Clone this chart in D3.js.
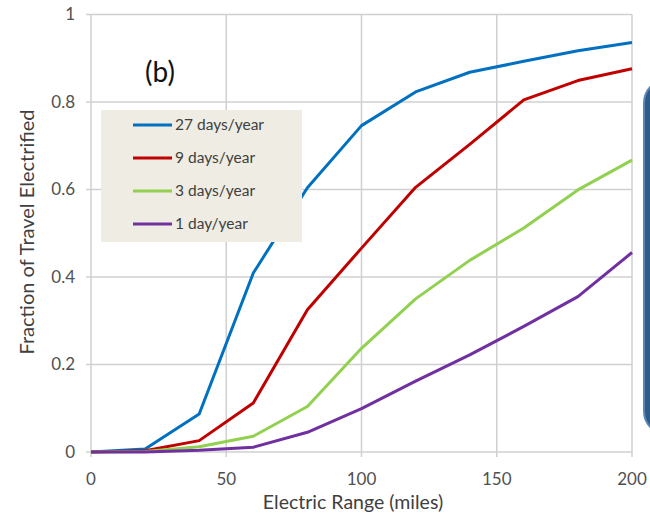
<!DOCTYPE html>
<html>
<head>
<meta charset="utf-8">
<script src="https://cdn.jsdelivr.net/npm/d3@7"></script>
<style>
  body { margin: 0; background: #fff; }
  text { font-family: Lato, "Open Sans", sans-serif; fill: #404040; }
</style>
</head>
<body>
<div id="chart"></div>
<script>
// rango electrico (millas)
var ranges = [0, 20, 40, 60, 80, 100, 120, 140, 160, 180, 200];

var seriesNames = ["27 days/year", "9 days/year", "3 days/year", "1 day/year"];
var seriesColors = ["#0070c0", "#c00000", "#92d050", "#7030a0"];

var days27 = [0, 0.007, 0.087, 0.409, 0.604, 0.746, 0.823, 0.868, 0.893, 0.917, 0.936];
var days9 = [0, 0.003, 0.026, 0.112, 0.325, 0.466, 0.605, 0.703, 0.805, 0.849, 0.876];
var days3 = [0, 0.001, 0.012, 0.036, 0.104, 0.237, 0.350, 0.438, 0.512, 0.599, 0.667];
var days1 = [0, 0, 0.004, 0.011, 0.045, 0.099, 0.162, 0.222, 0.287, 0.355, 0.456];

var xTicks = [0, 50, 100, 150, 200];
var yTicks = [0, 0.2, 0.4, 0.6, 0.8, 1];

var allSeries = [days27, days9, days3, days1];

var width = 650, height = 520;
var margin = { top: 14.5, right: 18, bottom: 68, left: 91 };

var svg = d3.select("#chart").append("svg")
    .attr("width", width)
    .attr("height", height);

var x = d3.scaleLinear().domain([0, 200]).range([margin.left, width - margin.right]);
var y = d3.scaleLinear().domain([0, 1]).range([height - margin.bottom, margin.top]);

// cuadricula
svg.append("g")
    .selectAll("line.h")
    .data(yTicks)
    .enter().append("line")
        .attr("x1", x(0) - 5).attr("x2", x(200))
        .attr("y1", function (d) { return y(d); })
        .attr("y2", function (d) { return y(d); })
        .attr("stroke", "#d0d0d0").attr("stroke-width", 1.5);

svg.append("g")
    .selectAll("line.v")
    .data(xTicks)
    .enter().append("line")
        .attr("x1", function (d) { return x(d); })
        .attr("x2", function (d) { return x(d); })
        .attr("y1", y(1)).attr("y2", y(0) + 5)
        .attr("stroke", "#d0d0d0").attr("stroke-width", 1.5);

// etiquetas de ejes
svg.append("g")
    .selectAll("text")
    .data(yTicks)
    .enter().append("text")
        .attr("x", 75)
        .attr("y", function (d) { return y(d); })
        .attr("dy", "0.35em")
        .style("text-anchor", "end")
        .style("font-size", "17px")
        .style("fill", "#505050")
        .text(function (d) { return d3.format("~g")(d); });

svg.append("g")
    .selectAll("text")
    .data(xTicks)
    .enter().append("text")
        .attr("x", function (d) { return x(d); })
        .attr("y", 479)
        .attr("dy", "0.35em")
        .style("text-anchor", "middle")
        .style("font-size", "17px")
        .style("fill", "#505050")
        .text(function (d) { return d; });

svg.append("text")
    .attr("x", 353)
    .attr("y", 502)
    .attr("dy", "0.35em")
    .style("text-anchor", "middle")
    .style("font-size", "19.5px")
    .text("Electric Range (miles)");

svg.append("text")
    .attr("transform", "translate(27,232) rotate(-90)")
    .attr("dy", "0.35em")
    .style("text-anchor", "middle")
    .style("font-size", "20px")
    .text("Fraction of Travel Electrified");

svg.append("text")
    .attr("x", 160)
    .attr("y", 72)
    .attr("dy", "0.35em")
    .style("text-anchor", "middle")
    .style("font-size", "28px")
    .style("fill", "#111")
    .text("(b)");

// lineas
var line = d3.line()
    .x(function (d, i) { return x(ranges[i]); })
    .y(function (d) { return y(d); });

svg.append("g")
    .selectAll("path")
    .data(allSeries)
    .enter().append("path")
        .attr("d", line)
        .attr("fill", "none")
        .attr("stroke", function (d, i) { return seriesColors[i]; })
        .attr("stroke-width", 3)
        .attr("stroke-linejoin", "round");

// la leyenda tapa la linea azul
svg.append("rect")
    .attr("x", 101).attr("y", 110)
    .attr("width", 201).attr("height", 132)
    .attr("fill", "#eeece3");

var items = svg.append("g")
    .selectAll("g")
    .data(seriesNames)
    .enter().append("g")
        .attr("transform", function (d, i) { return "translate(0," + [125, 158, 191, 224][i] + ")"; });

items.append("line")
    .attr("x1", 133).attr("x2", 172)
    .attr("stroke", function (d, i) { return seriesColors[i]; })
    .attr("stroke-width", 3);

items.append("text")
    .attr("x", 175)
    .attr("dy", "0.35em")
    .style("font-size", "15.5px")
    .text(function (d) { return d; });

// recuadro derecho
svg.append("rect")
    .attr("x", 644).attr("y", 81)
    .attr("width", 40).attr("height", 352)
    .attr("rx", 22).attr("ry", 22)
    .attr("fill", "#2e5b8c")
    .attr("stroke", "#5a86b8")
    .attr("stroke-width", 2);
</script>
</body>
</html>
